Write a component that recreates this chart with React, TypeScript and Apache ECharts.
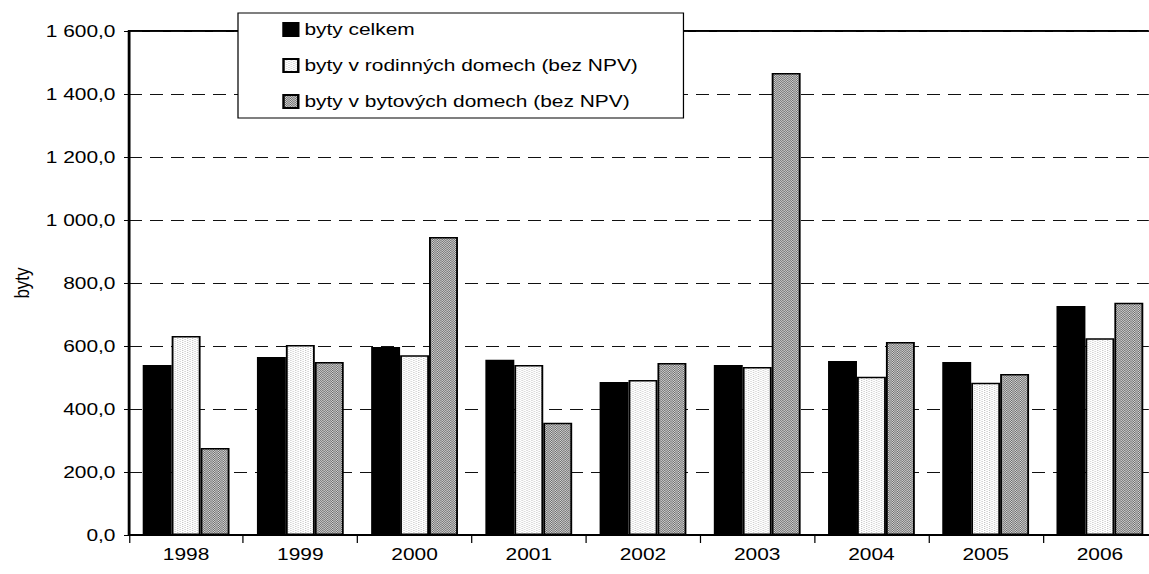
import React, { useEffect, useRef } from "react";
import * as echarts from "echarts";

// horizontal stretch of the reference (text and marks appear widened)
const S = 1.23;
const W = 1149;
const H = 574;

const categories = ["1998", "1999", "2000", "2001", "2002", "2003", "2004", "2005", "2006"];
const seriesNames = [
  "byty celkem",
  "byty v rodinných domech (bez NPV)",
  "byty v bytových domech (bez NPV)",
];
const bytyCelkem = [540, 565, 597, 556, 486, 540, 552, 549, 727];
const bytyRodinne = [632, 603, 571, 540, 492, 533, 502, 483, 625];
const bytyBytove = [276, 549, 946, 356, 546, 1467, 613, 511, 737];
const yMin = 0;
const yMax = 1600;
const yStep = 200;

const FONT = "'Liberation Sans', Arial, sans-serif";

function fmt(v: number): string {
  const s = v.toFixed(1);
  const [i, d] = s.split(".");
  return i.replace(/\B(?=(\d{3})+(?!\d))/g, " ") + "," + d;
}

function makePattern(w: number, h: number, bg: string, dots: [number, number][], dotColor: string) {
  const c = document.createElement("canvas");
  c.width = w;
  c.height = h;
  const ctx = c.getContext("2d")!;
  ctx.fillStyle = bg;
  ctx.fillRect(0, 0, w, h);
  ctx.fillStyle = dotColor;
  dots.forEach(([x, y]) => ctx.fillRect(x, y, 1, 1));
  return c;
}

export default function App() {
  const ref = useRef<HTMLDivElement>(null);

  useEffect(() => {
    if (!ref.current) return;
    const chart = echarts.init(ref.current, undefined, { renderer: "svg" });

    const greyPat = makePattern(2, 2, "#d6d6d6", [[0, 0], [1, 1]], "#6a6a6a");
    const whitePat = makePattern(4, 2, "#ffffff", [[0, 0], [2, 1]], "#c6c6c6");

    const option: any = {
      animation: false,
      grid: {
        left: 129 / S,
        top: 31,
        width: 1028 / S,
        height: 504,
        show: true,
        borderColor: "#000",
        borderWidth: 2,
        backgroundColor: "transparent",
        containLabel: false,
        outerBoundsMode: "none",
      },
      legend: {
        orient: "vertical",
        left: 238 / S,
        top: 13,
        itemWidth: 12,
        itemHeight: 13,
        itemGap: 19,
        padding: [8, 37, 8, 36],
        backgroundColor: "#fff",
        borderColor: "#000",
        borderWidth: 1,
        icon: "rect",
        selectedMode: false,
        textStyle: { fontSize: 17, color: "#000", fontFamily: FONT, lineHeight: 17 },
        data: seriesNames,
      },
      xAxis: {
        type: "category",
        data: categories,
        axisLine: { show: true, lineStyle: { color: "#000", width: 2 } },
        axisTick: { show: true, length: 8, lineStyle: { color: "#000", width: 1 } },
        axisLabel: { color: "#000", fontSize: 17, fontFamily: FONT, margin: 11 },
        splitLine: { show: false },
      },
      yAxis: {
        type: "value",
        min: yMin,
        max: yMax,
        interval: yStep,
        name: "byty",
        nameLocation: "middle",
        nameGap: 79,
        nameTextStyle: { fontSize: 17, color: "#000", fontFamily: FONT },
        axisLine: { show: true, lineStyle: { color: "#000", width: 2 } },
        axisTick: { show: true, length: 5 / S, lineStyle: { color: "#000", width: 1 } },
        axisLabel: { color: "#000", fontSize: 17, fontFamily: FONT, margin: 11, formatter: fmt },
        splitLine: { show: true, lineStyle: { color: "#111", width: 1, type: [13 / S, 8 / S] } },
      },
      series: [
        {
          name: seriesNames[0],
          type: "bar",
          data: bytyCelkem,
          barGap: "0%",
          barCategoryGap: "24%",
          itemStyle: { color: "#000", borderColor: "#000", borderWidth: 1.5 },
        },
        {
          name: seriesNames[1],
          type: "bar",
          data: bytyRodinne,
          barGap: "0%",
          barCategoryGap: "24%",
          itemStyle: { color: { image: whitePat, repeat: "repeat" }, borderColor: "#000", borderWidth: 1.5 },
        },
        {
          name: seriesNames[2],
          type: "bar",
          data: bytyBytove,
          barGap: "0%",
          barCategoryGap: "24%",
          itemStyle: { color: { image: greyPat, repeat: "repeat" }, borderColor: "#000", borderWidth: 1.5 },
        },
      ],
    };

    chart.setOption(option);
    return () => chart.dispose();
  }, []);

  return (
    <div
      ref={ref}
      style={{
        position: "absolute",
        left: 0,
        top: 0,
        width: W / S,
        height: H,
        transform: `scaleX(${S})`,
        transformOrigin: "0 0",
        background: "#fff",
      }}
    />
  );
}
